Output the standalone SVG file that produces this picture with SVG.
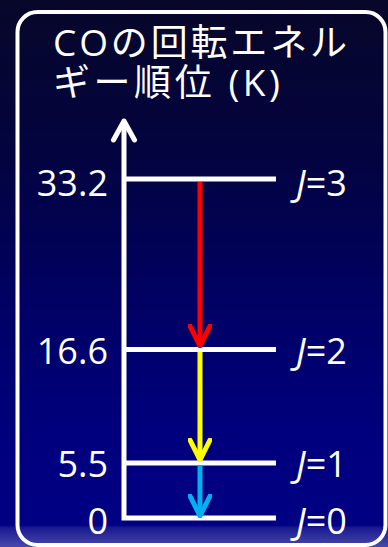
<svg xmlns="http://www.w3.org/2000/svg" width="388" height="547" viewBox="0 0 388 547">
  <defs>
    <linearGradient id="bg" x1="0" y1="0" x2="0" y2="1">
      <stop offset="0" stop-color="#07072a"/>
      <stop offset="0.3" stop-color="#030342"/>
      <stop offset="0.6" stop-color="#00006a"/>
      <stop offset="0.8" stop-color="#00007e"/>
      <stop offset="0.96" stop-color="#000084"/>
      <stop offset="0.965" stop-color="#1a1a90"/>
      <stop offset="1" stop-color="#4848ae"/>
    </linearGradient>
    <marker id="head" viewBox="0 0 24 24" markerWidth="24" markerHeight="24" refX="22" refY="12" orient="auto" markerUnits="userSpaceOnUse">
      <path d="M2,2 L22,12 L2,22" fill="none" stroke="context-stroke" stroke-width="5" stroke-linecap="round" stroke-linejoin="round"/>
    </marker>
  </defs>
  <style>
    .lvl { stroke: #ffffff; stroke-width: 5; fill: none; }
    .num { font-family: "Open Sans", "DejaVu Sans", sans-serif; font-size: 36px; fill: #ffffff; text-anchor: end; }
    .jl { font-family: "Open Sans", "DejaVu Sans", sans-serif; font-size: 36px; fill: #ffffff; }
    .title { font-family: "Open Sans", "Noto Sans CJK JP", sans-serif; font-size: 37px; fill: #ffffff; }
    .tr { stroke-width: 5; fill: none; }
  </style>
  <rect x="0" y="0" width="388" height="547" fill="url(#bg)"/>
  <rect x="17.5" y="12" width="368" height="533" rx="20" ry="20" fill="none" stroke="#ffffff" stroke-width="4"/>

  <g id="title">
    <text class="title" x="53" y="56" textLength="294" lengthAdjust="spacing">COの回転エネル</text>
    <text class="title" x="53" y="96" textLength="227" lengthAdjust="spacing">ギー順位 (K)</text>
  </g>

  <g id="axis">
    <polyline class="lvl" points="124,124 124,518 276,518"/>
    <polyline class="lvl" points="113.5,140 124,121 134.5,140" stroke-linecap="round" stroke-linejoin="round"/>
  </g>

  <g id="level-J3">
    <line class="lvl" x1="124" y1="179" x2="276" y2="179"/>
    <text class="num" x="108" y="196">33.2</text>
    <text class="jl" x="296" y="196"><tspan font-style="italic">J</tspan>=3</text>
  </g>
  <g id="level-J2">
    <line class="lvl" x1="124" y1="349.5" x2="276" y2="349.5"/>
    <text class="num" x="108" y="364">16.6</text>
    <text class="jl" x="296" y="364"><tspan font-style="italic">J</tspan>=2</text>
  </g>
  <g id="level-J1">
    <line class="lvl" x1="124" y1="463" x2="276" y2="463"/>
    <text class="num" x="108" y="477">5.5</text>
    <text class="jl" x="296" y="477"><tspan font-style="italic">J</tspan>=1</text>
  </g>
  <g id="level-J0">
    <text class="num" x="108" y="534">0</text>
    <text class="jl" x="296" y="534"><tspan font-style="italic">J</tspan>=0</text>
  </g>

  <g id="connectors">
    <line class="tr" x1="200" y1="182" x2="200" y2="346" stroke="#ff0000" marker-end="url(#head)"/>
    <line class="tr" x1="200" y1="352" x2="200" y2="460" stroke="#ffff00" marker-end="url(#head)"/>
    <line class="tr" x1="200" y1="465.5" x2="200" y2="516" stroke="#00b0f0" marker-end="url(#head)"/>
  </g>
</svg>
